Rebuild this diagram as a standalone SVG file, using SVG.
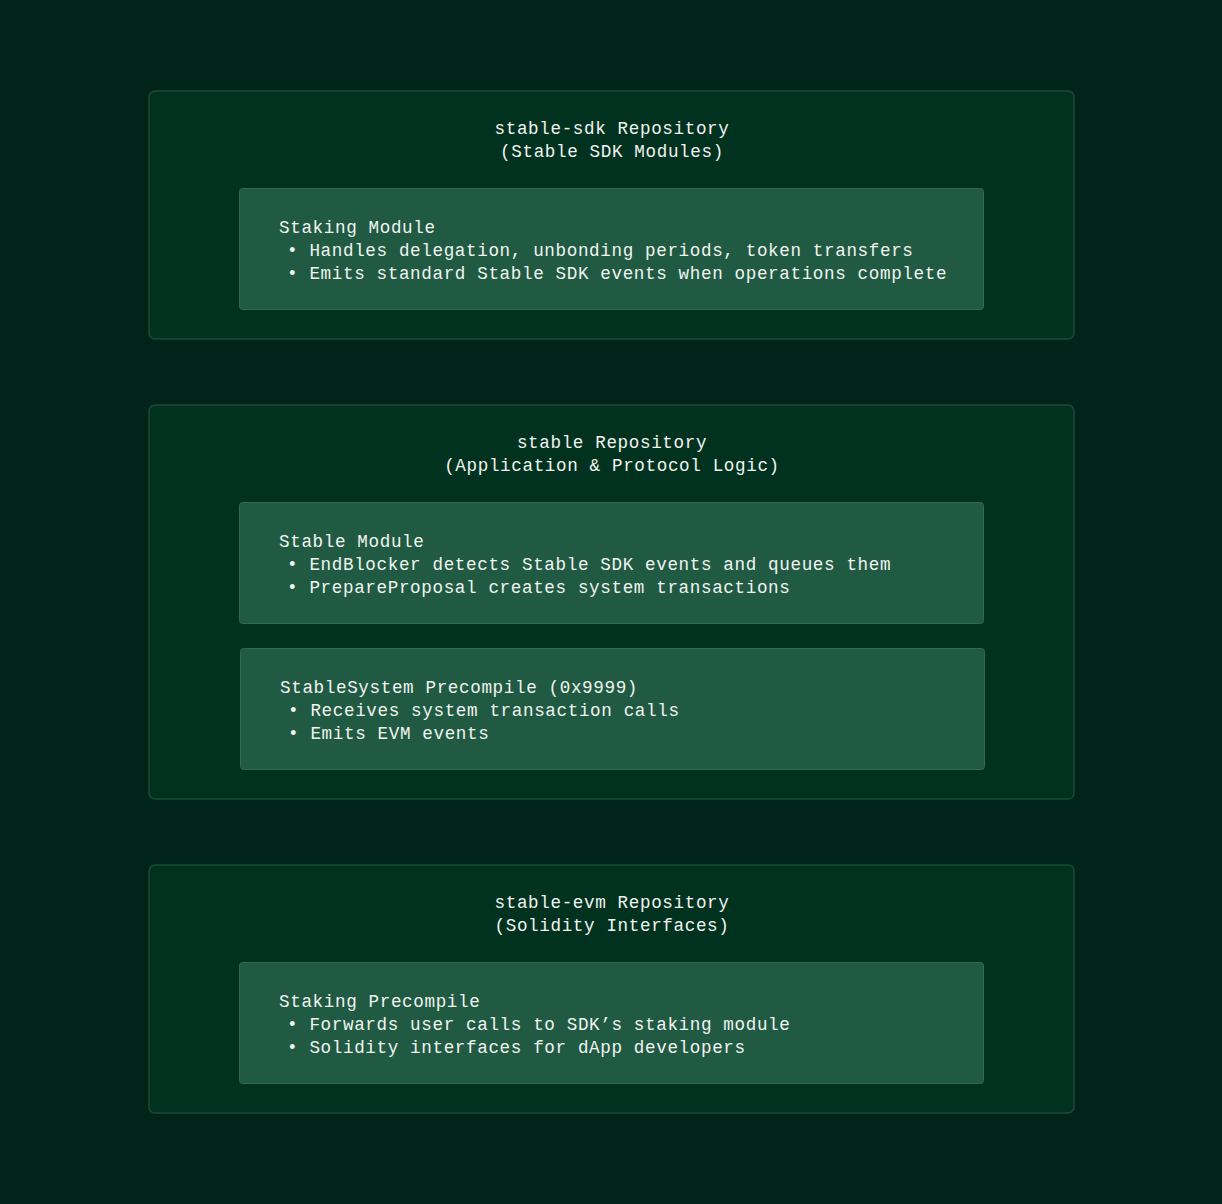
<svg xmlns="http://www.w3.org/2000/svg" width="1222" height="1204" viewBox="0 0 1222 1204">
<style>
.bg{fill:#01241a}
.outer{fill:#01311f;stroke:#1b4a34;stroke-width:1.5}
.inner{fill:#215a43;stroke:#2f6b52;stroke-width:1}
text{font-family:"Liberation Mono","DejaVu Sans Mono",monospace;font-size:17.6px;letter-spacing:0.63px;fill:#f0f4f0}
.t{text-anchor:middle}
</style>
<rect class="bg" x="0" y="0" width="1222" height="1204"/>
<g id="repo-sdk">
<rect class="outer" x="149" y="91" width="925" height="248" rx="6"/>
<text class="t" x="612" y="134">stable-sdk Repository</text>
<text class="t" x="612" y="157">(Stable SDK Modules)</text>
</g>
<g id="staking-module">
<rect class="inner" x="239.5" y="188.5" width="744" height="121" rx="3"/>
<text x="279" y="233">Staking Module</text>
<text x="287" y="256">• Handles delegation, unbonding periods, token transfers</text>
<text x="287" y="279">• Emits standard Stable SDK events when operations complete</text>
</g>
<g id="repo-stable">
<rect class="outer" x="149" y="405" width="925" height="394" rx="6"/>
<text class="t" x="612" y="448">stable Repository</text>
<text class="t" x="612" y="471">(Application &amp; Protocol Logic)</text>
</g>
<g id="stable-module">
<rect class="inner" x="239.5" y="502.5" width="744" height="121" rx="3"/>
<text x="279" y="547">Stable Module</text>
<text x="287" y="570">• EndBlocker detects Stable SDK events and queues them</text>
<text x="287" y="593">• PrepareProposal creates system transactions</text>
</g>
<g id="stablesystem-precompile">
<rect class="inner" x="240.5" y="648.5" width="744" height="121" rx="3"/>
<text x="280" y="693">StableSystem Precompile (0x9999)</text>
<text x="288" y="716">• Receives system transaction calls</text>
<text x="288" y="739">• Emits EVM events</text>
</g>
<g id="repo-evm">
<rect class="outer" x="149" y="865" width="925" height="248" rx="6"/>
<text class="t" x="612" y="908">stable-evm Repository</text>
<text class="t" x="612" y="931">(Solidity Interfaces)</text>
</g>
<g id="staking-precompile">
<rect class="inner" x="239.5" y="962.5" width="744" height="121" rx="3"/>
<text x="279" y="1007">Staking Precompile</text>
<text x="287" y="1030">• Forwards user calls to SDK’s staking module</text>
<text x="287" y="1053">• Solidity interfaces for dApp developers</text>
</g>
<g id="connectors"></g>
</svg>
